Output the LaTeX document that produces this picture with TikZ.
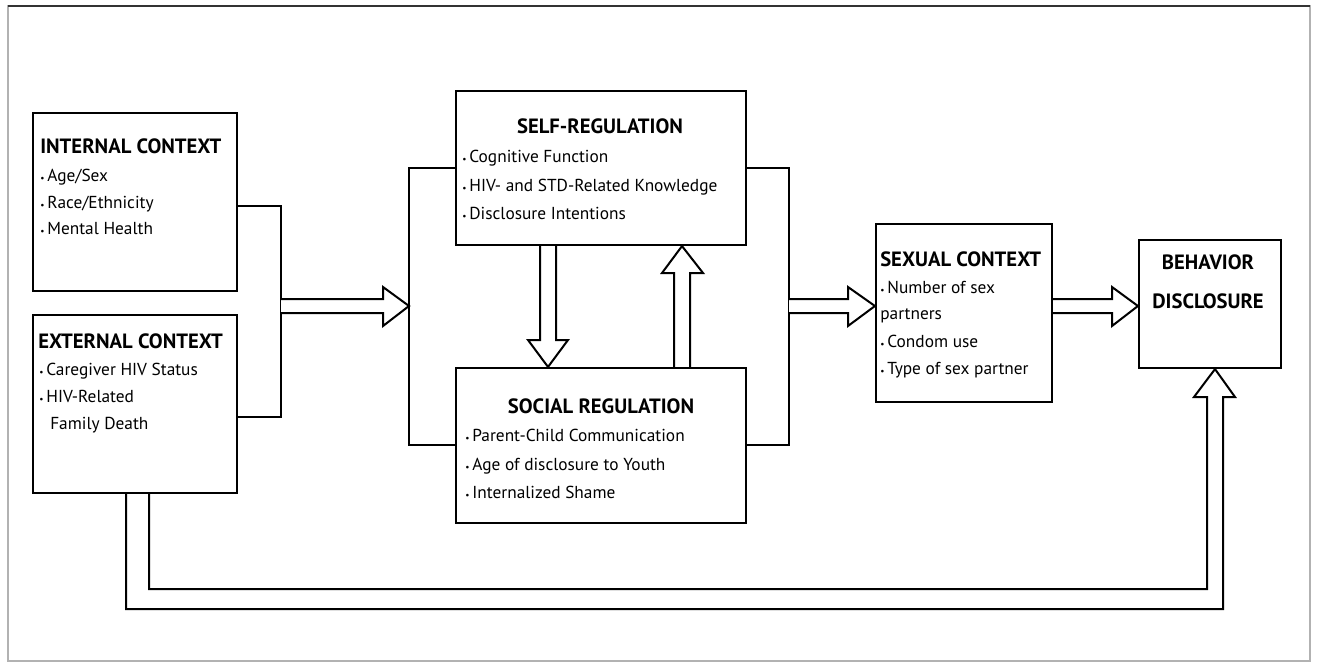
\documentclass[tikz,border=0pt]{standalone}
\usepackage{fontspec}
\setmainfont{PT Sans}
\usetikzlibrary{fit}
\newcommand{\itm}{{\scriptsize\textbullet}\,}
\tikzset{
  box/.style={draw, line width=1.6pt, inner sep=0pt},
  ttl/.style={anchor=base west, inner sep=0pt, font=\fontsize{15.5}{17}\selectfont\bfseries},
  txt/.style={anchor=base west, inner sep=0pt, font=\fontsize{13}{15}\selectfont},
  hollow/.style={draw, fill=white, line width=1.5pt, line join=miter},
  brace/.style={draw, line width=1.6pt}
}
\begin{document}
\begin{tikzpicture}[x=0.75pt,y=-0.75pt]
        \useasboundingbox (0,0) rectangle (1319,663);
        \draw[gray!60, line width=1pt](8,6) rectangle (1310,661);
        \draw[gray!40!black, line width=1pt](8,6)--(1310,6);
        % boxes
        \node[box, fit={(33,113) (237,291)}](internal){};
        \node[box, fit={(33,315) (237,493)}](external){};
        \node[box, fit={(456,91) (746,245)}](selfreg){};
        \node[box, fit={(456,368) (746,523)}](social){};
        \node[box, fit={(876,224) (1052,402)}](sexual){};
        \node[box, fit={(1139,240) (1281,368)}](behavior){};
        % texts
        \node[ttl](intt)at(40,154){INTERNAL CONTEXT};
        \node[txt](int1)at(40,181){\itm Age/Sex};
        \node[txt](int2)at(40,208){\itm Race/Ethnicity};
        \node[txt](int3)at(40,234){\itm Mental Health};
        \node[ttl](extt)at(38,348){EXTERNAL CONTEXT};
        \node[txt](ext1)at(39,375){\itm Caregiver HIV Status};
        \node[txt](ext2)at(39,402){\itm HIV-Related};
        \node[txt](ext3)at(50,429){Family Death};
        \node[ttl, anchor=base](selft)at(600,133){SELF-REGULATION};
        \node[txt](self1)at(462,162){\itm Cognitive Function};
        \node[txt](self2)at(462,191){\itm HIV- and STD-Related Knowledge};
        \node[txt](self3)at(462,219){\itm Disclosure Intentions};
        \node[ttl, anchor=base](soct)at(601,413){SOCIAL REGULATION};
        \node[txt](soc1)at(465,441){\itm Parent-Child Communication};
        \node[txt](soc2)at(465,470){\itm Age of disclosure to Youth};
        \node[txt](soc3)at(465,498){\itm Internalized Shame};
        \node[ttl](sext)at(880,266){SEXUAL CONTEXT};
        \node[txt](sex1)at(880,293){\itm Number of sex};
        \node[txt](sex2)at(880,319){partners};
        \node[txt](sex3)at(880,347){\itm Condom use};
        \node[txt](sex4)at(880,374){\itm Type of sex partner};
        \node[ttl, anchor=base](beht)at(1208,269){BEHAVIOR};
        \node[ttl, anchor=base](behd)at(1208,308){DISCLOSURE};
        % brackets
        \draw[brace](internal.east|-0,206)-|(281,417)--(external.east|-0,417);
        \draw[brace](selfreg.west|-0,168)-|(409,445)--(social.west|-0,445);
        \draw[brace](selfreg.east|-0,168)-|(789,445)--(social.east|-0,445);
        % hollow arrows
        \draw[hollow](281,299)--(383,299)--(383,287)--(409,306)--(383,326)--(383,313)--(281,313);
        \draw[hollow](789,299)--(848,299)--(848,287)--(sexual.west|-0,306)--(848,326)--(848,313)--(789,313);
        \draw[hollow](sexual.east|-0,299)--(1112,299)--(1112,287)--(behavior.west|-0,306)--(1112,326)--(1112,313)--(sexual.east|-0,313);
        \draw[hollow](selfreg.south-|540,0)--(540,340)--(528,340)--(social.north-|548,0)--(568,340)--(556,340)--(selfreg.south-|556,0);
        \draw[hollow](social.north-|674,0)--(674,273)--(662,273)--(selfreg.south-|682,0)--(703,273)--(690,273)--(social.north-|690,0);
        \draw[hollow](external.south-|126,0)--(126,609)--(1223,609)--(1223,397)--(1235,397)--(behavior.south-|1215,0)--(1194,397)--(1207,397)--(1207,589)--(149,589)--(external.south-|149,0);
\end{tikzpicture}
\end{document}
